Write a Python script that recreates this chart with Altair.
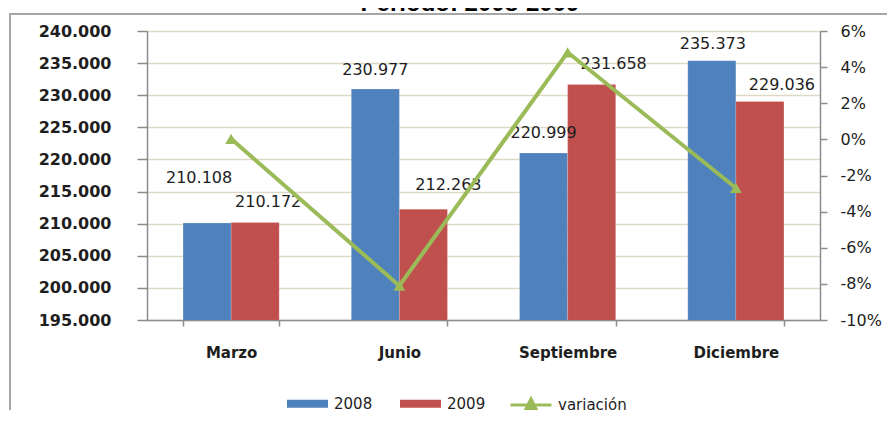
import altair as alt
import pandas as pd

# ---- data ----
months = ["Marzo", "Junio", "Septiembre", "Diciembre"]
years = ["2008", "2009"]
values_2008 = [210108, 230977, 220999, 235373]
values_2009 = [210172, 212263, 231658, 229036]
variacion = [0.0003, -0.0810, 0.0482, -0.0269]
left_ticks = [195000, 200000, 205000, 210000, 215000, 220000, 225000, 230000, 235000, 240000]
right_ticks = [-0.10, -0.08, -0.06, -0.04, -0.02, 0.0, 0.02, 0.04, 0.06]
title_text = "Periodo: 2008-2009"
series_name = "variación"

# ---- layout (pixel offsets of the data labels, as placed in the reference) ----
label_dx = {"2008": [-8, 0, 0, 1], "2009": [13, 25, 22, 22]}
label_dy = {"2008": [-45, -19, -20, -17], "2009": [-21, -24, -21, -16]}

W, H = 673, 289
BLUE, RED, GREEN = "#4F81BD", "#C0504D", "#9BBB59"
AXIS_GRAY = "#8C8C8C"
TXT = "#1E1E1E"

bars_df = pd.DataFrame({
    "mes": months * 2,
    "anio": [years[0]] * 4 + [years[1]] * 4,
    "valor": values_2008 + values_2009,
})
line_df = pd.DataFrame({"mes": months, "serie": [series_name] * 4, "var": variacion})

xscale = alt.Scale(domain=months, paddingInner=0.4286, paddingOuter=0.2143)
x_enc = alt.X(
    "mes:N", sort=months, scale=xscale,
    axis=alt.Axis(title=None, labelFont="DejaVu Sans", labelFontWeight="bold",
                  labelFontSize=15, labelColor=TXT, labelPadding=19, tickSize=6,
                  tickColor=AXIS_GRAY, domainColor=AXIS_GRAY, tickBand="extent",
                  labelAngle=0, grid=False, domainWidth=1.5, tickWidth=1.5),
)
xoff = alt.XOffset("anio:N", scale=alt.Scale(domain=years))
yleft_scale = alt.Scale(domain=[195000, 240000], nice=False, zero=False)
yleft = alt.Y(
    "valor:Q", scale=yleft_scale,
    axis=alt.Axis(title=None, orient="left", values=left_ticks,
                  labelExpr="replace(format(datum.value, ',.0f'), ',', '.')",
                  labelFont="DejaVu Sans", labelFontWeight="bold", labelFontSize=16,
                  labelColor=TXT, labelPadding=26, tickSize=10, tickColor=AXIS_GRAY,
                  domainColor=AXIS_GRAY, domainWidth=1.5, tickWidth=1.5,
                  grid=True, gridColor="#DDD9C4", gridWidth=1.5),
)

bars = alt.Chart(bars_df).mark_bar(stroke="white", strokeOpacity=0.35, strokeWidth=0.5,
                                   clip=True).encode(
    x=x_enc, xOffset=xoff, y=yleft,
    color=alt.Color(
        "anio:N", scale=alt.Scale(domain=years, range=[BLUE, RED]),
        legend=alt.Legend(title=None, orient="none", legendX=150, legendY=362,
                          direction="horizontal", symbolType="M-2,-0.4H2V0.4H-2Z",
                          symbolSize=420, symbolStrokeWidth=0, labelFont="DejaVu Sans",
                          labelFontSize=15, labelColor=TXT, labelOffset=16,
                          columnPadding=27, padding=0),
    ),
)

label_layers = []
for yr in years:
    for i, m in enumerate(months):
        t = alt.Chart(bars_df).transform_filter(
            f"datum.mes == '{m}' && datum.anio == '{yr}'"
        ).transform_calculate(
            lbl="replace(format(datum.valor, ','), ',', '.')"
        ).mark_text(
            font="DejaVu Sans", fontSize=16, color=TXT, baseline="middle",
            align="center", dx=label_dx[yr][i], dy=label_dy[yr][i],
        ).encode(x=x_enc, xOffset=xoff, y=yleft, text="lbl:N")
        label_layers.append(t)

left_layer = alt.layer(bars, *label_layers)

yright = alt.Y(
    "var:Q", scale=alt.Scale(domain=[-0.10, 0.06], nice=False, zero=False),
    axis=alt.Axis(title=None, orient="right", values=right_ticks,
                  labelExpr="toString(round(datum.value * 100)) + '%'",
                  labelFont="DejaVu Sans", labelFontSize=16, labelColor=TXT,
                  labelPadding=13, tickSize=7, tickColor=AXIS_GRAY,
                  domainColor=AXIS_GRAY, domainWidth=1.5, tickWidth=1.5, grid=False),
)

line = alt.Chart(line_df).mark_line(strokeWidth=4).encode(
    x=alt.X("mes:N", sort=months, scale=xscale),
    y=yright,
    stroke=alt.Stroke(
        "serie:N", scale=alt.Scale(domain=[series_name], range=[GREEN]),
        legend=alt.Legend(title=None, orient="none", legendX=372, legendY=362,
                          symbolType="M-2,0H2M-0.6,0.6L0,-0.6L0.6,0.6Z",
                          symbolSize=420, symbolStrokeWidth=3,
                          symbolFillColor=GREEN, labelFont="DejaVu Sans",
                          labelFontSize=15, labelColor=TXT, labelOffset=15, padding=0),
    ),
)
pts = alt.Chart(line_df).mark_point(shape="triangle-up", filled=True, size=140,
                                    color=GREEN, opacity=1).encode(
    x=alt.X("mes:N", sort=months, scale=xscale), y=yright,
)
right_layer = alt.layer(line, pts)

one = pd.DataFrame({"k": [0]})
frame = alt.Chart(one).mark_rect(fill="transparent", stroke="#A6A6A6", strokeWidth=2).encode(
    x=alt.value(-137), x2=alt.value(W + 100), y=alt.value(-17), y2=alt.value(H + 140),
)
title = alt.Chart(one).mark_text(
    text=title_text, font="Liberation Sans", fontWeight="bold", fontSize=24,
    color="#000000", align="center", baseline="alphabetic",
).encode(x=alt.value(323), y=alt.value(-20))

chart = alt.layer(frame, title, left_layer, right_layer).resolve_scale(
    y="independent"
).properties(
    width=W, height=H,
    padding={"left": 139, "top": 23, "right": 67, "bottom": 90},
    autosize=alt.AutoSizeParams(type="none"),
    background="white",
).configure_view(strokeWidth=0)

chart.save("out.html", embed_options={"renderer": "svg", "actions": False})
